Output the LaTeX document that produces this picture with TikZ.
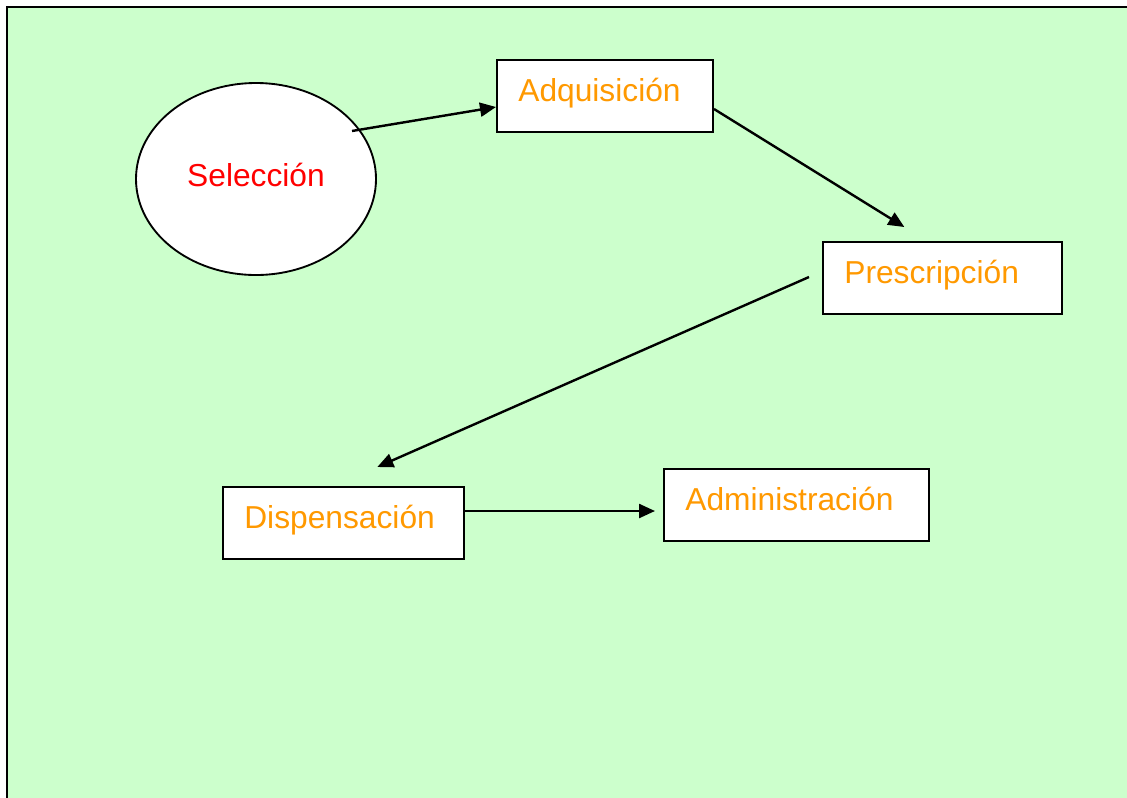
\documentclass[tikz,border=0pt]{standalone}
\usepackage{fontspec}
\setmainfont{Liberation Sans}
\usetikzlibrary{arrows.meta,shapes.geometric}
\definecolor{fondo}{HTML}{CCFFCC}
\definecolor{naranja}{HTML}{FF9900}
\definecolor{rojo}{HTML}{FF0000}
% 1px = 0.75pt
\tikzset{
  caja/.style={draw, fill=white, line width=1.5pt, anchor=north west,
    minimum height=54pt, inner xsep=16pt, inner ysep=0pt, align=left,
    text=naranja, text height=18.75pt, text depth=11.25pt},
  flecha/.style={line width=1.8pt, -{Triangle[length=12pt,width=10.5pt]}},
}
\begin{document}
\begin{tikzpicture}[x=0.75pt,y=-0.75pt,font=\fontsize{23.8pt}{28pt}\selectfont]
  \useasboundingbox (0,0) rectangle (1127,797);
  \draw[fill=fondo, line width=1.8pt] (7,7) rectangle (1140,810);
  % etapas
  \node[ellipse, draw, fill=white, line width=1.4pt, minimum width=180pt,
    minimum height=144pt, inner sep=0pt, text=rojo, text height=18.75pt,
    text depth=8.25pt] (sel) at (256,179) {Selección};
  \node[caja, text width=130pt] (adq) at (496,59) {Adquisición};
  \node[caja, text width=147pt] (pre) at (822,241) {Prescripción};
  \node[caja, text width=148.5pt] (dis) at (222,486) {Dispensación};
  \node[caja, text width=166.5pt] (adm) at (663,468) {Administración};
  % flujo
  \draw[flecha] ([shift={(96,-48)}]sel.center) -- ([shift={(0,11)}]adq.west);
  \draw[flecha] ([shift={(0,13)}]adq.east) -- ([shift={(-38,-14)}]pre.north);
  \draw[flecha] ([shift={(-13,-1)}]pre.west) -- ([shift={(34,-19)}]dis.north);
  \draw[flecha] ([shift={(0,-12)}]dis.east) -- ([shift={(-8,6)}]adm.west);
\end{tikzpicture}
\end{document}
